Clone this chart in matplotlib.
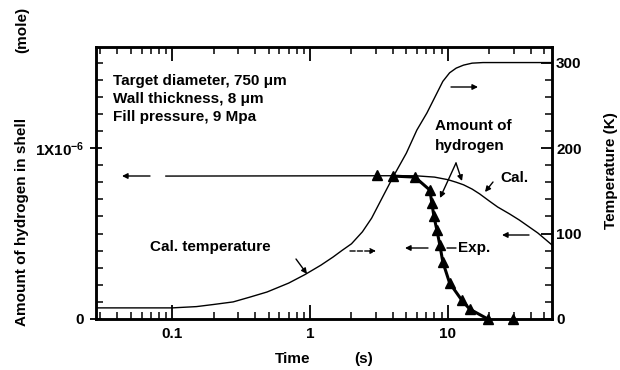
import numpy as np
import matplotlib
matplotlib.use("Agg")
import matplotlib.pyplot as plt
from matplotlib.ticker import MultipleLocator, LogLocator, NullFormatter

plt.rcParams['font.family'] = ['Liberation Sans', 'DejaVu Sans']
plt.rcParams['font.weight'] = 'bold'
plt.rcParams['font.size'] = 11
plt.rcParams['mathtext.fontset'] = 'custom'
plt.rcParams['mathtext.rm'] = 'Liberation Sans:bold'
plt.rcParams['mathtext.default'] = 'rm'

# calculated temperature (K) vs time (s)
temp_t = [0.028, 0.1, 0.15, 0.2, 0.277, 0.368, 0.488, 0.7, 0.92, 1.2, 1.47, 1.7,
          2.0, 2.4, 2.8, 3.2, 4.0, 5.0, 5.96, 7.05, 8.2, 9.2, 10.3, 11.5, 13,
          15, 18, 57]
temp_k = [13, 13, 14.5, 17, 20, 25.7, 31.6, 42, 52, 63, 72.5, 80,
          88, 102, 118, 136, 166, 194, 221, 241, 262, 278, 288, 293.5, 297,
          299.3, 300, 300]

# calculated amount of hydrogen (x1e-6 mole)
cal_t = [0.09, 4.0, 6.0, 8.0, 10, 11.5, 13, 15, 17, 20, 23, 28, 33, 45, 57]
cal_h = [0.836, 0.838, 0.837, 0.83, 0.815, 0.80, 0.785, 0.76, 0.732, 0.69,
         0.655, 0.615, 0.579, 0.503, 0.433]

# experimental amount of hydrogen (x1e-6 mole)
exp_t = [3.06, 4.0, 5.77, 7.41, 7.66, 7.92, 8.33, 8.75, 9.2, 10.3, 12.6, 14.4, 19.5, 29.6]
exp_h = [0.842, 0.836, 0.830, 0.754, 0.678, 0.602, 0.520, 0.433, 0.333, 0.211,
         0.111, 0.058, 0.0, 0.0]

fig = plt.figure(figsize=(6.2, 3.7), dpi=100)
ax = fig.add_axes([96/620, 1-319/370, 456/620, 272/370])
ax2 = ax.twinx()

ax.set_xscale('log')
ax.set_xlim(0.028, 57)
ax.set_ylim(0, 1.591e-6)
ax2.set_ylim(0, 318.2)

ax2.plot(temp_t, temp_k, color='black', lw=1.0)
ax.plot(cal_t, np.array(cal_h)*1e-6, color='black', lw=1.0)
ax.plot(exp_t[1:13], np.array(exp_h[1:13])*1e-6, color='black', lw=2.2)
ax.plot(exp_t, np.array(exp_h)*1e-6, ls='none', marker='^', ms=6.5,
        color='black', clip_on=False, zorder=5)

# ticks
ax.set_xticks([0.1, 1, 10])
ax.set_xticklabels(['0.1', '1', '10'])
ax.xaxis.set_minor_locator(LogLocator(base=10, subs=np.arange(2, 10)))
ax.xaxis.set_minor_formatter(NullFormatter())
ax.set_yticks([0, 1e-6])
ax.set_yticklabels(['0', '1X10$^{-6}$'])
ax.yaxis.set_minor_locator(MultipleLocator(0.1e-6))
ax2.set_yticks([0, 100, 200, 300])
ax2.yaxis.set_minor_locator(MultipleLocator(20))

ax.tick_params(axis='x', which='both', direction='in', top=True, pad=6)
ax.tick_params(axis='x', which='major', length=10, width=1.3)
ax.tick_params(axis='x', which='minor', length=5, width=1.1)
ax.tick_params(axis='y', which='major', direction='inout', length=9, width=1.3, pad=4)
ax.tick_params(axis='y', which='minor', direction='in', length=5, width=1.1)
ax2.tick_params(axis='y', which='major', direction='in', length=8, width=1.3, pad=3)
ax2.tick_params(axis='y', which='minor', direction='in', length=5, width=1.1)

for a in (ax, ax2):
    for s in a.spines.values():
        s.set_linewidth(1.8)


def fr(x, y):
    return ((x - 96) / 456, (319 - y) / 272)


tk = dict(xycoords='axes fraction', textcoords='axes fraction')

# info text
ax.text(*fr(113, 81), 'Target diameter, 750 μm', transform=ax.transAxes, va='center')
ax.text(*fr(113, 99), 'Wall thickness, 8 μm', transform=ax.transAxes, va='center')
ax.text(*fr(113, 117), 'Fill pressure, 9 Mpa', transform=ax.transAxes, va='center')

ax.text(*fr(435, 126), 'Amount of', transform=ax.transAxes, va='center')
ax.text(*fr(435, 146), 'hydrogen', transform=ax.transAxes, va='center')
ax.text(*fr(500, 178), 'Cal.', transform=ax.transAxes, va='center')
ax.text(*fr(458, 248), 'Exp.', transform=ax.transAxes, va='center')
ax.text(*fr(150, 247), 'Cal. temperature', transform=ax.transAxes, va='center')

arr = dict(arrowstyle='-|>', color='black', lw=1.0, mutation_scale=8, shrinkA=0, shrinkB=0)
ax.annotate('', xy=fr(440, 198), xytext=fr(456, 163), arrowprops=arr, **tk)
ax.annotate('', xy=fr(462, 181), xytext=fr(456, 163), arrowprops=arr, **tk)
ax.annotate('', xy=fr(485, 192), xytext=fr(493, 182), arrowprops=arr, **tk)
ax.annotate('', xy=fr(307, 274), xytext=fr(296, 259), arrowprops=arr, **tk)
ax.annotate('', xy=fr(447, 248), xytext=fr(456, 248),
            arrowprops=dict(arrowstyle='-', lw=1.0, shrinkA=0, shrinkB=0), **tk)

# direction arrows
ax.annotate('', xy=fr(478, 87), xytext=fr(451, 87), arrowprops=arr, **tk)
ax.annotate('', xy=fr(376, 251), xytext=fr(350, 251),
            arrowprops=dict(arrowstyle='-|>', ls='--', color='black', lw=1.0,
                            mutation_scale=8, shrinkA=0, shrinkB=0), **tk)
ax.annotate('', xy=fr(405, 248), xytext=fr(428, 248), arrowprops=arr, **tk)
ax.annotate('', xy=fr(502, 235), xytext=fr(529, 235), arrowprops=arr, **tk)
ax.annotate('', xy=fr(122, 176), xytext=fr(150, 176), arrowprops=arr, **tk)

# axis labels
fig.text(22/620, 1-222/370, 'Amount of hydrogen in shell', rotation=90,
         ha='center', va='center')
fig.text(22/620, 1-30/370, '(mole)', rotation=90, ha='center', va='center')
fig.text(611/620, 1-171/370, 'Temperature (K)', rotation=90, ha='center', va='center')
fig.text(293/620, 1-359/370, 'Time', ha='center', va='center')
fig.text(364/620, 1-359/370, '(s)', ha='center', va='center')

fig.savefig('out.png', dpi=100)
plt.close(fig)
